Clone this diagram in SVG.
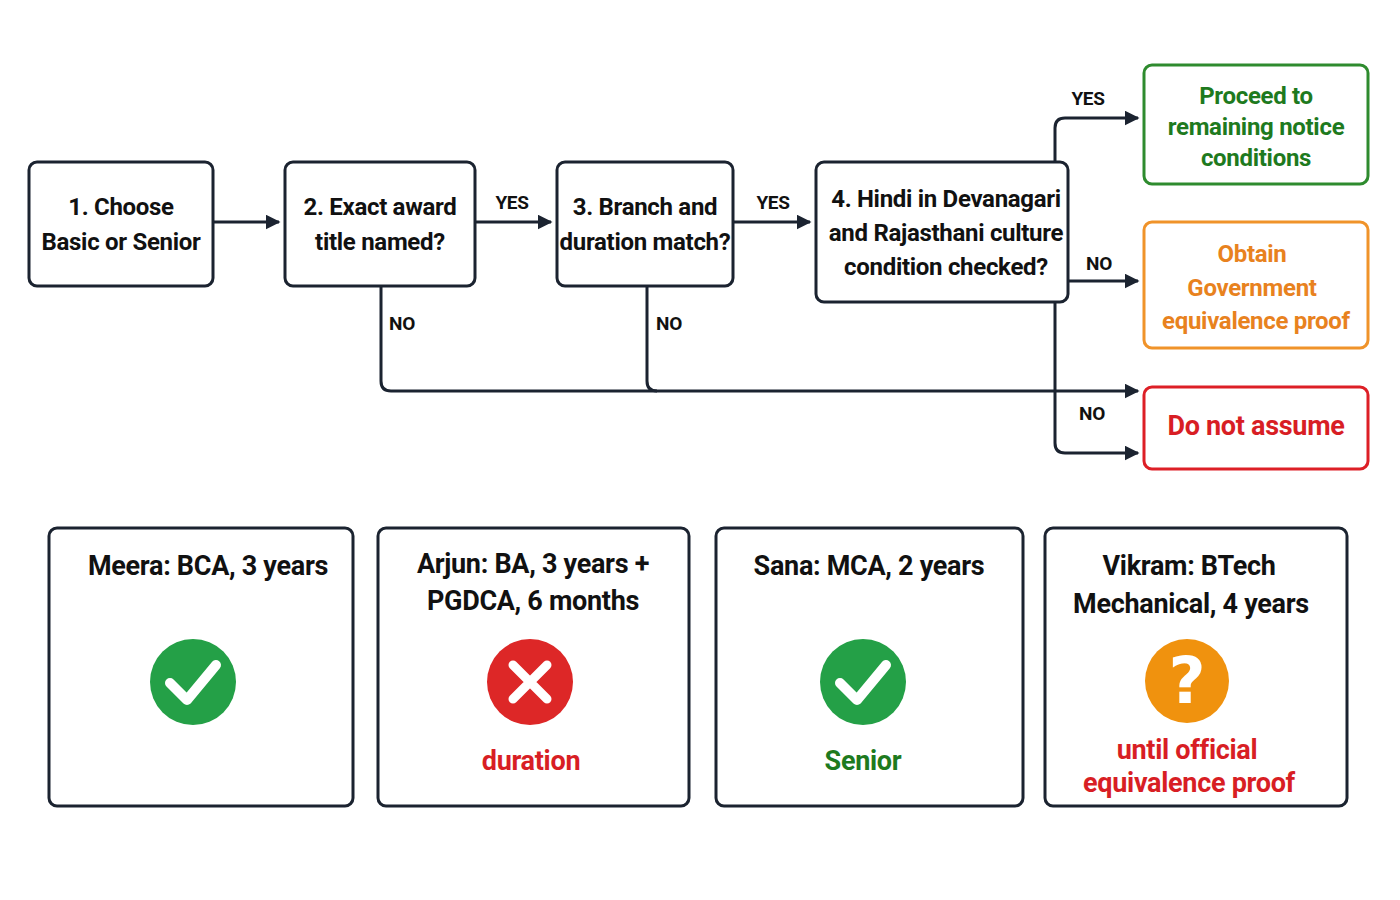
<svg xmlns="http://www.w3.org/2000/svg" width="1400" height="900" viewBox="0 0 1400 900">
<style>
text{font-family:"Liberation Sans Narrow",Roboto,"Liberation Sans",sans-serif;font-weight:bold;text-anchor:middle;letter-spacing:-0.3px}
.n{fill:#fff;stroke:#1b2330;stroke-width:3}
.t{font-size:24px;fill:#111}
.c{font-size:27px;fill:#111}
.l{font-size:19px;fill:#111}
.w{fill:none;stroke:#1b2330;stroke-width:3;stroke-linejoin:round}
</style>
<defs><marker id="a" viewBox="0 0 10 10" refX="9" refY="5" markerWidth="5" markerHeight="5" orient="auto" markerUnits="strokeWidth"><path d="M0,0L10,5L0,10z" fill="#1b2330"/></marker></defs>
<rect width="1400" height="900" fill="#fff"/>
<g id="connectors">
<path class="w" marker-end="url(#a)" d="M213,222H279"/>
<path class="w" marker-end="url(#a)" d="M475,222H551"/>
<path class="w" marker-end="url(#a)" d="M733,222H810"/>
<path class="w" marker-end="url(#a)" d="M1055,162V128Q1055,118 1065,118H1138"/>
<path class="w" marker-end="url(#a)" d="M1068,281H1138"/>
<path class="w" marker-end="url(#a)" d="M1055,302V443Q1055,453 1065,453H1138"/>
<path class="w" marker-end="url(#a)" d="M381,286V381Q381,391 391,391H1138"/>
<path class="w" d="M647,286V381Q647,391 657,391"/>
<text class="l" x="512" y="209">YES</text>
<text class="l" x="773" y="209">YES</text>
<text class="l" x="1088" y="105">YES</text>
<text class="l" x="1099" y="270">NO</text>
<text class="l" x="1092" y="420">NO</text>
<text class="l" x="402" y="330">NO</text>
<text class="l" x="669" y="330">NO</text>
</g>
<g id="n1"><rect class="n" x="29" y="162" width="184" height="124" rx="8"/><text class="t" x="121" y="215">1. Choose</text><text class="t" x="121" y="250">Basic or Senior</text></g>
<g id="n2"><rect class="n" x="285" y="162" width="190" height="124" rx="8"/><text class="t" x="380" y="215">2. Exact award</text><text class="t" x="380" y="250">title named?</text></g>
<g id="n3"><rect class="n" x="557" y="162" width="176" height="124" rx="8"/><text class="t" x="645" y="215">3. Branch and</text><text class="t" x="645" y="250">duration match?</text></g>
<g id="n4"><rect class="n" x="816" y="162" width="252" height="140" rx="8"/><text class="t" x="946" y="207">4. Hindi in Devanagari</text><text class="t" x="946" y="241">and Rajasthani culture</text><text class="t" x="946" y="275">condition checked?</text></g>
<g id="o1"><rect x="1144" y="65" width="224" height="119" rx="8" fill="#fff" stroke="#2e8b2e" stroke-width="3"/><text class="t" style="fill:#1e7a1e" x="1256" y="104">Proceed to</text><text class="t" style="fill:#1e7a1e" x="1256" y="135">remaining notice</text><text class="t" style="fill:#1e7a1e" x="1256" y="166">conditions</text></g>
<g id="o2"><rect x="1144" y="222" width="224" height="126" rx="8" fill="#fff" stroke="#f0932a" stroke-width="3"/><text class="t" style="fill:#e8821e" x="1252" y="262">Obtain</text><text class="t" style="fill:#e8821e" x="1252" y="296">Government</text><text class="t" style="fill:#e8821e" x="1256" y="329">equivalence proof</text></g>
<g id="o3"><rect x="1144" y="387" width="224" height="82" rx="8" fill="#fff" stroke="#dd1f26" stroke-width="3"/><text class="c" style="fill:#d81e24" x="1256" y="435">Do not assume</text></g>
<g id="card1"><rect class="n" x="49" y="528" width="304" height="278" rx="8"/><text class="c" x="208" y="575">Meera: BCA, 3 years</text><circle cx="193" cy="682" r="43" fill="#24a047"/><path d="M170,683L187,700L216,665" fill="none" stroke="#fff" stroke-width="10" stroke-linecap="round" stroke-linejoin="round"/></g>
<g id="card2"><rect class="n" x="378" y="528" width="311" height="278" rx="8"/><text class="c" x="533" y="573">Arjun: BA, 3 years +</text><text class="c" x="533" y="610">PGDCA, 6 months</text><circle cx="530" cy="682" r="43" fill="#dd2727"/><path d="M513,665L547,699M547,665L513,699" stroke="#fff" stroke-width="9" stroke-linecap="round"/><text class="c" style="fill:#d81e24" x="531" y="770">duration</text></g>
<g id="card3"><rect class="n" x="716" y="528" width="307" height="278" rx="8"/><text class="c" x="869" y="575">Sana: MCA, 2 years</text><circle cx="863" cy="682" r="43" fill="#24a047"/><path d="M840,683L857,700L886,665" fill="none" stroke="#fff" stroke-width="10" stroke-linecap="round" stroke-linejoin="round"/><text class="c" style="fill:#1e7a1e" x="863" y="770">Senior</text></g>
<g id="card4"><rect class="n" x="1045" y="528" width="302" height="278" rx="8"/><text class="c" x="1189" y="575">Vikram: BTech</text><text class="c" x="1191" y="613">Mechanical, 4 years</text><circle cx="1187" cy="681" r="42" fill="#f0920e"/><text x="1187" y="703" style="font-size:64px;fill:#fff;font-family:'DejaVu Sans',sans-serif">?</text><text class="c" style="fill:#d81e24" x="1187" y="759">until official</text><text class="c" style="fill:#d81e24" x="1189" y="792">equivalence proof</text></g>
</svg>
